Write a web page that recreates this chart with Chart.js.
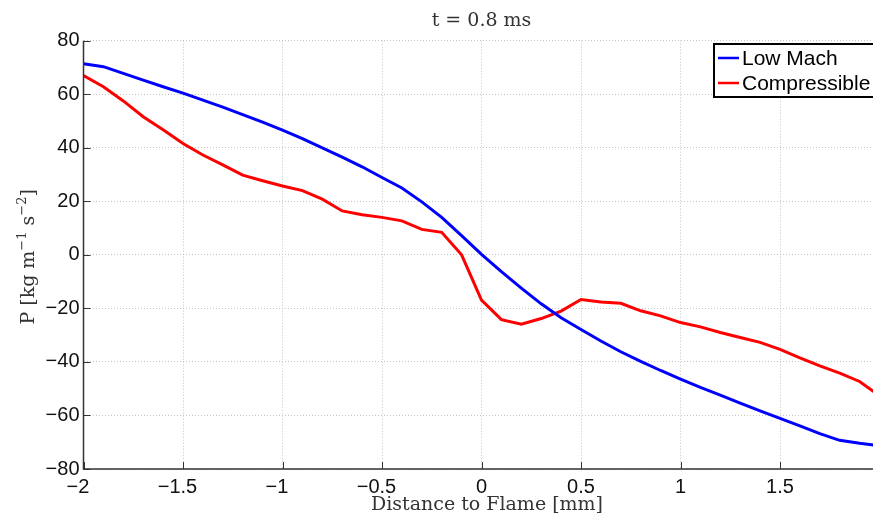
<!DOCTYPE html>
<html>
<head>
<meta charset="utf-8">
<script src="https://cdn.jsdelivr.net/npm/chart.js@4.4.1/dist/chart.umd.min.js"></script>
<style>
  html, body { margin: 0; padding: 0; background: #fff; overflow: hidden; }
  #chart { display: block; }
</style>
</head>
<body>
<canvas id="chart" width="900" height="521"></canvas>
<script>
// distance to flame [mm]
const distance = [
  -2.0, -1.9, -1.8, -1.7, -1.6, -1.5, -1.4, -1.3, -1.2, -1.1,
  -1.0, -0.9, -0.8, -0.7, -0.6, -0.5, -0.4, -0.3, -0.2, -0.1,
  0.0, 0.1, 0.2, 0.3, 0.4, 0.5, 0.6, 0.7, 0.8, 0.9,
  1.0, 1.1, 1.2, 1.3, 1.4, 1.5, 1.6, 1.7, 1.8, 1.9, 2.0
];
const lowMach = [
  71.4, 70.3, 67.8, 65.3, 62.8, 60.4, 57.8, 55.2, 52.4, 49.6,
  46.6, 43.4, 40.0, 36.5, 32.9, 28.9, 25.0, 19.8, 14.0, 7.2,
  0.2, -6.3, -12.4, -18.3, -23.5, -27.9, -32.2, -36.2, -39.8, -43.2,
  -46.4, -49.5, -52.4, -55.4, -58.3, -61.1, -63.9, -66.8, -69.3, -70.4, -71.3
];
const compressible = [
  67.0, 62.8, 57.5, 51.6, 46.7, 41.6, 37.3, 33.6, 29.8, 27.7,
  25.7, 24.0, 20.8, 16.4, 15.0, 14.0, 12.7, 9.5, 8.4, 0.0,
  -16.9, -24.2, -25.9, -23.8, -21.0, -16.7, -17.6, -18.1, -20.9, -22.8,
  -25.3, -26.9, -29.0, -30.9, -32.7, -35.3, -38.5, -41.5, -44.2, -47.3, -52.6
];
const xTicks = [-2, -1.5, -1, -0.5, 0, 0.5, 1, 1.5, 2];
const yTicks = [-80, -60, -40, -20, 0, 20, 40, 60, 80];
const seriesNames = ['Low Mach', 'Compressible'];
const seriesColors = ['#0000ff', '#ff0000'];

const titleText = 't = 0.8 ms';
const xTitle = 'Distance to Flame [mm]';

const sans = '"Liberation Sans", Arial, Helvetica, sans-serif';
const serif = '"DejaVu Serif", "Liberation Serif", serif';

// matlab style minus sign
const fmt = v => String(v).replace('-', '\u2212');
// on the x axis the number is centred and the minus hangs out to the left
const fmtX = v => v < 0 ? fmt(v) + '\u2007' : fmt(v);

const toPoints = ys => ys.map((y, i) => ({ x: distance[i], y: y }));

// title, axis labels, inward ticks and the boxed legend
const decorPlugin = {
  id: 'decor',
  afterDraw(chart) {
    const ctx = chart.ctx;
    const area = chart.chartArea;
    const xs = chart.scales.x, ys = chart.scales.y;
    ctx.save();

    // axis lines + inward ticks
    ctx.strokeStyle = '#333';
    ctx.lineWidth = 1.5;
    ctx.beginPath();
    ctx.moveTo(area.left, area.top);
    ctx.lineTo(area.left, area.bottom);
    ctx.lineTo(area.right, area.bottom);
    ctx.stroke();
    ctx.lineWidth = 1;
    ctx.beginPath();
    yTicks.forEach(v => {
      const py = Math.round(ys.getPixelForValue(v)) + 0.5;
      ctx.moveTo(area.left, py);
      ctx.lineTo(area.left + 7, py);
    });
    xTicks.forEach(v => {
      const px = Math.round(xs.getPixelForValue(v)) + 0.5;
      ctx.moveTo(px, area.bottom);
      ctx.lineTo(px, area.bottom - 7);
    });
    ctx.stroke();

    // title
    ctx.fillStyle = '#333';
    ctx.font = '19px ' + serif;
    ctx.textAlign = 'center';
    ctx.textBaseline = 'middle';
    ctx.fillText(titleText, (area.left + area.right) / 2, 21);

    // x axis title
    ctx.fillText(xTitle, 487, 505);

    // y axis title with superscripts
    const parts = [
      ['P [kg m', false], ['\u22121', true], [' s', false], ['\u22122', true], [']', false]
    ];
    const mainFont = '19px ' + serif, supFont = '13px ' + serif;
    let total = 0;
    parts.forEach(p => { ctx.font = p[1] ? supFont : mainFont; total += ctx.measureText(p[0]).width; });
    ctx.translate(34, (area.top + area.bottom) / 2 + 2);
    ctx.rotate(-Math.PI / 2);
    ctx.textAlign = 'left';
    ctx.textBaseline = 'alphabetic';
    let cx = -total / 2;
    parts.forEach(p => {
      ctx.font = p[1] ? supFont : mainFont;
      ctx.fillText(p[0], cx, p[1] ? -8 : 0);
      cx += ctx.measureText(p[0]).width;
    });
    ctx.setTransform(1, 0, 0, 1, 0, 0);

    // legend box
    const lx = 714, ly = 44, lw = 164, lh = 53;
    ctx.fillStyle = '#fff';
    ctx.fillRect(lx, ly, lw, lh);
    ctx.strokeStyle = '#000';
    ctx.lineWidth = 2;
    ctx.strokeRect(lx, ly, lw, lh);
    ctx.font = '21px ' + sans;
    ctx.textBaseline = 'middle';
    seriesNames.forEach((name, i) => {
      const yy = 58 + i * 25;
      ctx.strokeStyle = seriesColors[i];
      ctx.lineWidth = 2.5;
      ctx.beginPath();
      ctx.moveTo(718, yy);
      ctx.lineTo(739, yy);
      ctx.stroke();
      ctx.fillStyle = '#000';
      ctx.fillText(name, 742, yy + 1);
    });
    ctx.restore();
  }
};

new Chart(document.getElementById('chart'), {
  type: 'line',
  data: {
    datasets: seriesNames.map((name, i) => ({
      label: name,
      data: toPoints(i === 0 ? lowMach : compressible),
      borderColor: seriesColors[i],
      backgroundColor: seriesColors[i],
      borderWidth: 3,
      pointRadius: 0,
      tension: 0,
      fill: false
    }))
  },
  options: {
    responsive: false,
    animation: false,
    devicePixelRatio: 1,
    layout: { padding: { left: 0, right: 20.5, top: 40.7, bottom: 0 } },
    plugins: {
      legend: { display: false },
      title: { display: false },
      tooltip: { enabled: false }
    },
    scales: {
      x: {
        type: 'linear',
        min: -2,
        max: 2,
        afterFit: s => { s.height = 52; },
        afterBuildTicks: s => { s.ticks = xTicks.map(v => ({ value: v })); },
        grid: { color: '#c4c4c4', lineWidth: 1, drawTicks: false },
        border: { display: false, dash: [1, 2] },
        ticks: {
          autoSkip: false,
          maxRotation: 0,
          padding: 6,
          color: '#111',
          font: { family: sans, size: 20 },
          callback: v => fmtX(v)
        }
      },
      y: {
        min: -80,
        max: 80,
        afterFit: s => { s.width = 83.5; },
        afterBuildTicks: s => { s.ticks = yTicks.map(v => ({ value: v })); },
        grid: { color: '#c4c4c4', lineWidth: 1, drawTicks: false },
        border: { display: false, dash: [1, 2] },
        ticks: {
          autoSkip: false,
          padding: 4,
          color: '#111',
          font: { family: sans, size: 20 },
          callback: v => fmt(v)
        }
      }
    }
  },
  plugins: [decorPlugin]
});
</script>
</body>
</html>
